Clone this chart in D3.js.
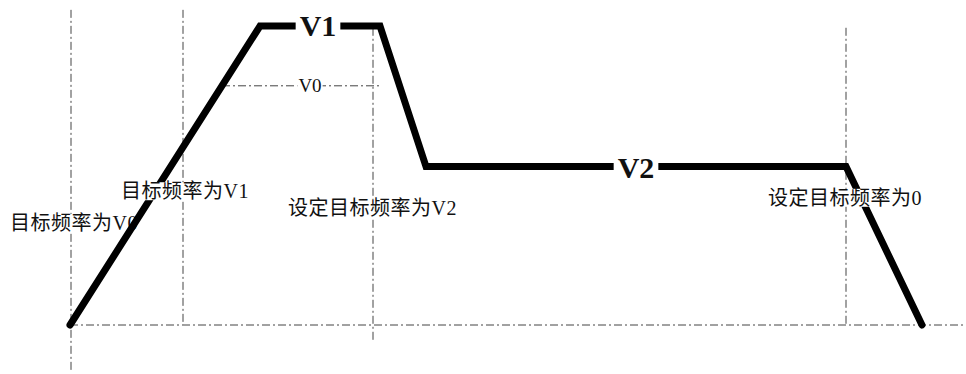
<!DOCTYPE html>
<html>
<head>
<meta charset="utf-8">
<script src="https://cdn.jsdelivr.net/npm/d3@7"></script>
<style>
  body { margin: 0; background: #fff; }
  svg { display: block; }
</style>
</head>
<body>
<div id="chart"></div>
<script>
// frequency profile: time (arbitrary units) and frequency (arbitrary units)
var times = [0, 19, 31, 35.6, 77.6, 85.2]
var freqs = [0, 50, 50, 26.5, 26.5, 0]

var V0 = 40, V1 = 50, V2 = 26.5

// vertical dash-dot markers: time, top freq, bottom freq
var markerT = [0.1, 11.3, 30.3, 77.6]
var markerTop = [52.7, 52.7, 49.7, 49.7]
var markerBottom = [-7.5, 0, -2.5, 0]

// annotation labels: text, time, freq (baseline)
var labelText = ["目标频率为V1", "设定目标频率为V2", "设定目标频率为0"]
var labelT = [5.1, 21.8, 69.8]
var labelF = [21.2, 18.4, 20.1]

var width = 966
var height = 374

var x = d3.scaleLinear().domain([0, 85.2]).range([70, 922])
var y = d3.scaleLinear().domain([0, 50]).range([325, 26])

var svg = d3.select("#chart")
  .append("svg")
    .attr("width", width)
    .attr("height", height)

var font = "'Liberation Serif', 'Times New Roman', 'Noto Sans CJK SC', serif"
var dash = "8,3,2,3"
var dashColor = "#444"

// baseline
svg.append("line")
    .attr("x1", x(0)).attr("x2", x(89.4))
    .attr("y1", y(0)).attr("y2", y(0))
    .attr("stroke", dashColor).attr("stroke-width", 1)
    .attr("stroke-dasharray", dash)

// vertical markers
svg.selectAll(".marker")
  .data(markerT)
  .join("line")
    .attr("class", "marker")
    .attr("x1", d => x(d)).attr("x2", d => x(d))
    .attr("y1", (d, i) => y(markerTop[i]))
    .attr("y2", (d, i) => y(markerBottom[i]))
    .attr("stroke", dashColor).attr("stroke-width", 1)
    .attr("stroke-dasharray", dash)

// V0 level line, from the ramp to the V1 plateau end
var tV0 = times[1] * V0 / V1
svg.append("line")
    .attr("x1", x(tV0)).attr("x2", x(31))
    .attr("y1", y(V0)).attr("y2", y(V0))
    .attr("stroke", dashColor).attr("stroke-width", 1)
    .attr("stroke-dasharray", dash)

function boxedText(g, txt, px, py, opts) {
  var t = g.append("text")
      .attr("x", px).attr("y", py)
      .attr("font-family", font)
      .attr("font-size", opts.size)
      .attr("font-weight", opts.weight || "normal")
      .attr("letter-spacing", opts.spacing || 0)
      .attr("text-anchor", opts.anchor || "start")
      .attr("dominant-baseline", opts.baseline || "auto")
      .attr("fill", "#111")
      .text(txt)
  var bb = t.node().getBBox()
  var p = opts.pad || 0
  g.insert("rect", "text")
      .attr("x", bb.x - p).attr("y", bb.y + 2)
      .attr("width", bb.width + 2 * p).attr("height", bb.height - 4)
      .attr("fill", "#fff")
}

// V0 label (drawn under the thick line)
var gLow = svg.append("g")
boxedText(gLow, "V0", x(24), y(V0), {size: 19, anchor: "middle", baseline: "central", pad: 1})
boxedText(gLow, "目标频率为V0", x(-6), y(15.9), {size: 20, spacing: 0.5})

// frequency profile
var line = d3.line()
    .x(d => x(d[0]))
    .y(d => y(d[1]))

svg.append("path")
    .datum(times.map((t, i) => [t, freqs[i]]))
    .attr("d", line)
    .attr("fill", "none")
    .attr("stroke", "#000")
    .attr("stroke-width", 7)
    .attr("stroke-linejoin", "miter")
    .attr("stroke-linecap", "round")

// labels over the line
labelText.forEach(function(s, i) {
  var g = svg.append("g")
  boxedText(g, s, x(labelT[i]), y(labelF[i]), {size: 20, spacing: 0.5})
})

var gV1 = svg.append("g")
boxedText(gV1, "V1", x(24.8), y(V1) - 1, {size: 30, weight: "bold", anchor: "middle", baseline: "central", pad: 4})
var gV2 = svg.append("g")
boxedText(gV2, "V2", x(56.6), y(V2) + 1, {size: 30, weight: "bold", anchor: "middle", baseline: "central", pad: 4})
</script>
</body>
</html>
